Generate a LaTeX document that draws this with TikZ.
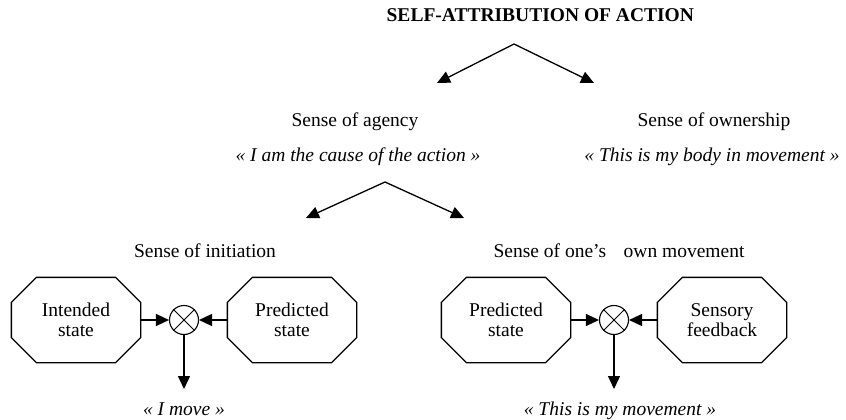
\documentclass[tikz,border=0pt]{standalone}
\usepackage{fontspec}
\setmainfont{Liberation Serif}
\usetikzlibrary{arrows.meta}
\newcommand{\octoframe}[1]{%
  \draw ([xshift=25pt]#1.north west) -- ([xshift=-25pt]#1.north east)
     -- ([yshift=-25pt]#1.north east) -- ([yshift=25pt]#1.south east)
     -- ([xshift=-25pt]#1.south east) -- ([xshift=25pt]#1.south west)
     -- ([yshift=25pt]#1.south west) -- ([yshift=-25pt]#1.north west) -- cycle;}
\begin{document}
\begin{tikzpicture}[x=1pt,y=-1pt,
  line width=1.3pt,
  every node/.style={font=\fontsize{19.5}{20}\selectfont, inner sep=0pt},
  lbl/.style={anchor=base},
  quote/.style={anchor=base, font=\fontsize{19.5}{20}\selectfont\itshape},
  octo/.style={minimum width=128pt, minimum height=84pt, align=center},
  comp/.style={circle, draw, minimum size=29pt, line width=1.1pt},
  tip/.style={-{Triangle[length=13pt,width=12pt]}}]
\useasboundingbox (0,0) rectangle (846,420);

% title
\node[anchor=base west, font=\fontsize{19.5}{20}\selectfont\bfseries] (title) at (386,22) {SELF-ATTRIBUTION OF ACTION};
\coordinate (apex1) at (514,44);
\coordinate (tipA) at (437,83);
\coordinate (tipO) at (594,83);
\draw[tip] (apex1) -- (tipA);
\draw[tip] (apex1) -- (tipO);

% level 2
\node[lbl] (agency) at (355,126) {Sense of agency};
\node[lbl] (ownership) at (714,126) {Sense of ownership};
\node[quote] (cause) at (358,161) {« I am the cause of the action »};
\node[quote] (body) at (712,161) {« This is my body in movement »};

\coordinate (apex2) at (385,182);
\coordinate (tipI) at (306,218);
\coordinate (tipM) at (464,218);
\draw[tip] (apex2) -- (tipI);
\draw[tip] (apex2) -- (tipM);

% level 3
\node[lbl] (initiation) at (205,257) {Sense of initiation};
\node[lbl] (ownmove) at (619,257) {Sense of one’s\hspace{0.9em}own movement};

% left group
\node[octo] (intended) at (76,320) {Intended\\state};
\octoframe{intended}
\node[octo] (pred1) at (292,320) {Predicted\\state};
\octoframe{pred1}
\node[comp] (c1) at (184,320) {};
\draw[line width=1pt] (c1.north east) -- (c1.south west) (c1.north west) -- (c1.south east);
\draw[tip] (intended.east) -- (c1.west);
\draw[tip] (pred1.west) -- (c1.east);
\coordinate (d1) at (184,389);
\draw[tip] (c1.south) -- (d1);
\node[quote] (imove) at (184,415) {« I move »};

% right group
\node[octo] (pred2) at (506,320) {Predicted\\state};
\octoframe{pred2}
\node[octo] (sensory) at (722,320) {Sensory\\feedback};
\octoframe{sensory}
\node[comp] (c2) at (614,320) {};
\draw[line width=1pt] (c2.north east) -- (c2.south west) (c2.north west) -- (c2.south east);
\draw[tip] (pred2.east) -- (c2.west);
\draw[tip] (sensory.west) -- (c2.east);
\coordinate (d2) at (614,389);
\draw[tip] (c2.south) -- (d2);
\node[quote] (mymove) at (620,415) {« This is my movement »};
\end{tikzpicture}
\end{document}
